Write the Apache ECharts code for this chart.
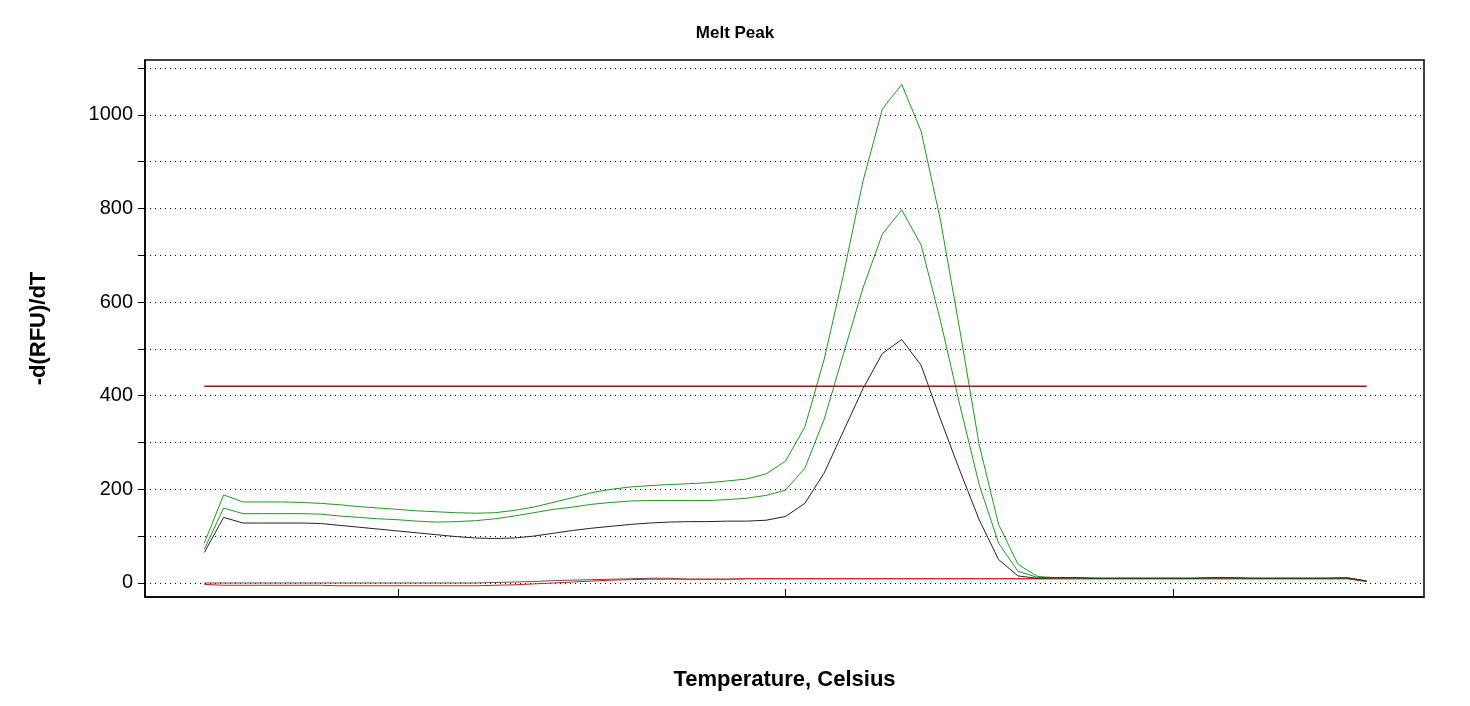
<!DOCTYPE html>
<html>
<head>
<meta charset="utf-8">
<script src="https://cdn.jsdelivr.net/npm/echarts@6/dist/echarts.min.js"></script>
<style>html,body{margin:0;background:#fff}#chart{width:1470px;height:706px}</style>
</head>
<body>
<div id="chart"></div>
<script>
// temperatures 65.0 .. 95.0 in 0.5 steps
var temps = [];
for (var t = 65; t <= 95.001; t += 0.5) temps.push(t);

var tail = [11, 11, 10, 10, 10, 10, 10, 10, 11, 11, 10, 10, 10, 10, 10, 11];

var greenHigh = [85, 188, 173, 173, 173, 172, 170, 167, 163, 160, 157, 154, 152, 150, 149, 150, 155, 162, 172, 182, 193, 200, 205, 208, 210, 212, 214, 218, 222, 233, 260, 333, 478, 660, 858, 1012, 1065, 965, 775, 540, 295, 125, 40, 14].concat(tail, [4]);
var greenLow = [72, 160, 148, 148, 148, 148, 147, 143, 140, 137, 135, 132, 130, 131, 133, 137, 143, 150, 157, 162, 168, 172, 175, 176, 176, 176, 176, 178, 181, 187, 198, 245, 350, 490, 630, 745, 797, 722, 560, 380, 210, 85, 25, 12].concat(tail, [4]);
var blackLine = [65, 140, 128, 128, 128, 128, 127, 123, 119, 115, 111, 107, 103, 99, 96, 95, 96, 100, 106, 112, 117, 121, 125, 128, 130, 131, 131, 132, 132, 134, 142, 170, 235, 325, 415, 490, 520, 465, 350, 240, 135, 50, 15, 10].concat(tail, [4]);

var flatRest = [8, 8, 8, 9, 9, 9, 9, 9, 9, 9, 9, 9, 9, 9, 9, 9, 9, 9, 9, 9, 9, 9, 9, 9, 9, 9, 9, 9, 9, 9, 9, 9, 9, 9, 9];
var redFlat = [-3, -5, -5, -5, -5, -5, -5, -6, -6, -6, -6, -6, -6, -6, -6, -5, -4, -2, 0, 2, 4, 6, 7, 8, 8].concat(flatRest, [3]);
var greyFlat = [0, 0, 0, 0, 0, 0, 0, 0, 0, 0, 0, 0, 0, 0, 0, 1, 2, 3, 5, 6, 7, 8, 9, 10, 10].concat(flatRest, [4]);

var threshold = 420;
var xTicks = [70, 80, 90];
var yLabels = [0, 200, 400, 600, 800, 1000];
var yTicks = [0, 100, 200, 300, 400, 500, 600, 700, 800, 900, 1000, 1100];

function pairs(vals) {
  return vals.map(function (v, i) { return [temps[i], v]; });
}

function line(name, vals, color, z) {
  return {
    name: name, type: 'line', data: pairs(vals), symbol: 'none', z: z || 2,
    lineStyle: { color: color, width: 1 }
  };
}

var chart = echarts.init(document.getElementById('chart'));
chart.setOption({
  animation: false,
  title: {
    text: 'Melt Peak', left: 'center', top: 20,
    textStyle: { fontFamily: 'Arial, Liberation Sans', fontSize: 17, fontWeight: 'bold', color: '#000' }
  },
  grid: { left: 145, right: 46, top: 60, bottom: 109, show: true, borderColor: '#000', borderWidth: 1.5 },
  xAxis: {
    type: 'value', min: 63.47, max: 96.48,
    name: 'Temperature, Celsius', nameLocation: 'middle', nameGap: 72,
    nameTextStyle: { fontFamily: 'Arial, Liberation Sans', fontSize: 22, fontWeight: 'bold', color: '#000' },
    axisLine: { show: true, onZero: false, lineStyle: { color: '#000', width: 1.5 } },
    axisTick: { show: true, customValues: xTicks, length: 8, inside: true, lineStyle: { color: '#000' } },
    axisLabel: { show: false },
    splitLine: { show: false }
  },
  yAxis: {
    type: 'value', min: -30, max: 1117,
    name: '-d(RFU)/dT', nameLocation: 'middle', nameGap: 95, nameRotate: 90,
    nameTextStyle: { fontFamily: 'Arial, Liberation Sans', fontSize: 22, fontWeight: 'bold', color: '#000' },
    axisLine: { show: true, onZero: false, lineStyle: { color: '#000', width: 1.5 } },
    axisTick: { show: true, length: 7, lineStyle: { color: '#000' }, customValues: yTicks },
    axisLabel: {
      fontFamily: 'Arial, Liberation Sans', fontSize: 20, color: '#000', margin: 12,
      customValues: yLabels, formatter: function (v) { return String(v); }
    },
    splitLine: { show: true, lineStyle: { color: '#000', type: [1, 4], width: 1 } }
  },
  series: [
    line('grey', greyFlat, '#555555', 1),
    line('red', redFlat, '#ee1111', 1),
    line('green high', greenHigh, '#1e9a1e'),
    line('green low', greenLow, '#1e9a1e'),
    line('black', blackLine, '#222222'),
    {
      name: 'threshold', type: 'line', symbol: 'none',
      data: [[temps[0], threshold], [temps[temps.length - 1], threshold]],
      lineStyle: { color: '#a01818', width: 1.5 }
    }
  ]
});
</script>
</body>
</html>
